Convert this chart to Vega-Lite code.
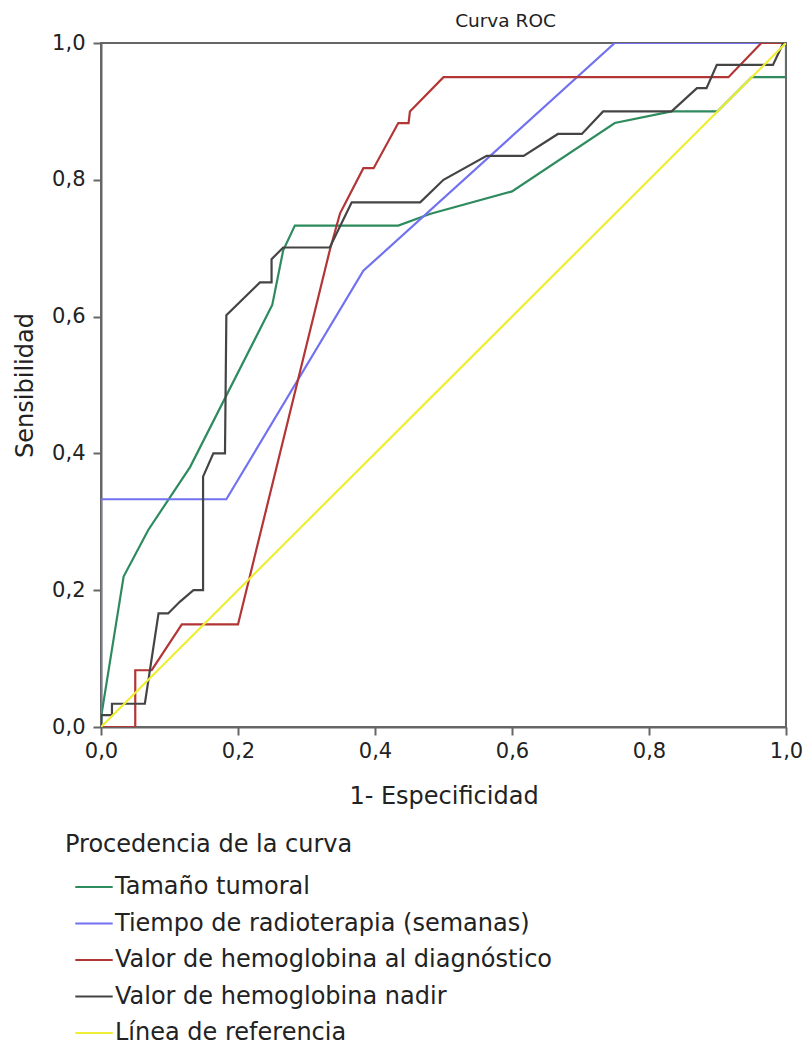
{
  "$schema": "https://vega.github.io/schema/vega-lite/v6.json",
  "autosize": "none",
  "padding": {"left": 101, "top": 43, "right": 26, "bottom": 328},
  "width": 685,
  "height": 684,
  "title": {"text": "Curva ROC", "anchor": "middle", "dx": 62, "offset": 2, "fontSize": 18.5, "fontWeight": "normal", "font": "DejaVu Sans", "color": "#222"},
  "config": {
    "font": "DejaVu Sans",
    "view": {"stroke": "#666", "strokeWidth": 2},
    "axis": {"grid": false, "domainColor": "#666", "domainWidth": 2, "tickColor": "#666", "tickWidth": 2, "tickSize": 8, "labelFontSize": 21, "labelColor": "#222", "titleFontSize": 24, "titleFontWeight": "normal", "titleColor": "#222"},
    "legend": {"labelFontSize": 24, "titleFontSize": 24, "titleFontWeight": "normal", "labelColor": "#222", "titleColor": "#222", "labelLimit": 0, "titleLimit": 0}
  },
  "data": {
    "values": [
      {"s": "Tamaño tumoral", "i": 0, "x": 0, "y": 0},
      {"s": "Tamaño tumoral", "i": 1, "x": 0.001, "y": 0.02},
      {"s": "Tamaño tumoral", "i": 2, "x": 0.033, "y": 0.22},
      {"s": "Tamaño tumoral", "i": 3, "x": 0.069, "y": 0.288},
      {"s": "Tamaño tumoral", "i": 4, "x": 0.13, "y": 0.38},
      {"s": "Tamaño tumoral", "i": 5, "x": 0.25, "y": 0.617},
      {"s": "Tamaño tumoral", "i": 6, "x": 0.266, "y": 0.697},
      {"s": "Tamaño tumoral", "i": 7, "x": 0.283, "y": 0.733},
      {"s": "Tamaño tumoral", "i": 8, "x": 0.434, "y": 0.733},
      {"s": "Tamaño tumoral", "i": 9, "x": 0.48, "y": 0.75},
      {"s": "Tamaño tumoral", "i": 10, "x": 0.6, "y": 0.783},
      {"s": "Tamaño tumoral", "i": 11, "x": 0.75, "y": 0.883},
      {"s": "Tamaño tumoral", "i": 12, "x": 0.833, "y": 0.9},
      {"s": "Tamaño tumoral", "i": 13, "x": 0.9, "y": 0.9},
      {"s": "Tamaño tumoral", "i": 14, "x": 0.95, "y": 0.95},
      {"s": "Tamaño tumoral", "i": 15, "x": 1, "y": 0.95},
      {"s": "Tamaño tumoral", "i": 16, "x": 1, "y": 1},

      {"s": "Tiempo de radioterapia (semanas)", "i": 0, "x": 0, "y": 0},
      {"s": "Tiempo de radioterapia (semanas)", "i": 1, "x": 0, "y": 0.333},
      {"s": "Tiempo de radioterapia (semanas)", "i": 2, "x": 0.183, "y": 0.333},
      {"s": "Tiempo de radioterapia (semanas)", "i": 3, "x": 0.383, "y": 0.667},
      {"s": "Tiempo de radioterapia (semanas)", "i": 4, "x": 0.75, "y": 1},
      {"s": "Tiempo de radioterapia (semanas)", "i": 5, "x": 1, "y": 1},

      {"s": "Valor de hemoglobina al diagnóstico", "i": 0, "x": 0, "y": 0},
      {"s": "Valor de hemoglobina al diagnóstico", "i": 1, "x": 0.05, "y": 0},
      {"s": "Valor de hemoglobina al diagnóstico", "i": 2, "x": 0.05, "y": 0.083},
      {"s": "Valor de hemoglobina al diagnóstico", "i": 3, "x": 0.074, "y": 0.083},
      {"s": "Valor de hemoglobina al diagnóstico", "i": 4, "x": 0.118, "y": 0.15},
      {"s": "Valor de hemoglobina al diagnóstico", "i": 5, "x": 0.2, "y": 0.15},
      {"s": "Valor de hemoglobina al diagnóstico", "i": 6, "x": 0.334, "y": 0.697},
      {"s": "Valor de hemoglobina al diagnóstico", "i": 7, "x": 0.349, "y": 0.751},
      {"s": "Valor de hemoglobina al diagnóstico", "i": 8, "x": 0.383, "y": 0.817},
      {"s": "Valor de hemoglobina al diagnóstico", "i": 9, "x": 0.398, "y": 0.817},
      {"s": "Valor de hemoglobina al diagnóstico", "i": 10, "x": 0.434, "y": 0.883},
      {"s": "Valor de hemoglobina al diagnóstico", "i": 11, "x": 0.449, "y": 0.883},
      {"s": "Valor de hemoglobina al diagnóstico", "i": 12, "x": 0.451, "y": 0.9},
      {"s": "Valor de hemoglobina al diagnóstico", "i": 13, "x": 0.5, "y": 0.95},
      {"s": "Valor de hemoglobina al diagnóstico", "i": 14, "x": 0.916, "y": 0.95},
      {"s": "Valor de hemoglobina al diagnóstico", "i": 15, "x": 0.964, "y": 1},
      {"s": "Valor de hemoglobina al diagnóstico", "i": 16, "x": 1, "y": 1},

      {"s": "Valor de hemoglobina nadir", "i": 0, "x": 0, "y": 0},
      {"s": "Valor de hemoglobina nadir", "i": 1, "x": 0, "y": 0.0175},
      {"s": "Valor de hemoglobina nadir", "i": 2, "x": 0.016, "y": 0.0175},
      {"s": "Valor de hemoglobina nadir", "i": 3, "x": 0.016, "y": 0.034},
      {"s": "Valor de hemoglobina nadir", "i": 4, "x": 0.064, "y": 0.034},
      {"s": "Valor de hemoglobina nadir", "i": 5, "x": 0.084, "y": 0.166},
      {"s": "Valor de hemoglobina nadir", "i": 6, "x": 0.098, "y": 0.166},
      {"s": "Valor de hemoglobina nadir", "i": 7, "x": 0.115, "y": 0.183},
      {"s": "Valor de hemoglobina nadir", "i": 8, "x": 0.135, "y": 0.2},
      {"s": "Valor de hemoglobina nadir", "i": 9, "x": 0.149, "y": 0.2},
      {"s": "Valor de hemoglobina nadir", "i": 10, "x": 0.149, "y": 0.366},
      {"s": "Valor de hemoglobina nadir", "i": 11, "x": 0.164, "y": 0.4},
      {"s": "Valor de hemoglobina nadir", "i": 12, "x": 0.181, "y": 0.4},
      {"s": "Valor de hemoglobina nadir", "i": 13, "x": 0.183, "y": 0.602},
      {"s": "Valor de hemoglobina nadir", "i": 14, "x": 0.232, "y": 0.65},
      {"s": "Valor de hemoglobina nadir", "i": 15, "x": 0.249, "y": 0.65},
      {"s": "Valor de hemoglobina nadir", "i": 16, "x": 0.249, "y": 0.684},
      {"s": "Valor de hemoglobina nadir", "i": 17, "x": 0.266, "y": 0.701},
      {"s": "Valor de hemoglobina nadir", "i": 18, "x": 0.334, "y": 0.701},
      {"s": "Valor de hemoglobina nadir", "i": 19, "x": 0.366, "y": 0.767},
      {"s": "Valor de hemoglobina nadir", "i": 20, "x": 0.466, "y": 0.767},
      {"s": "Valor de hemoglobina nadir", "i": 21, "x": 0.5, "y": 0.8},
      {"s": "Valor de hemoglobina nadir", "i": 22, "x": 0.563, "y": 0.835},
      {"s": "Valor de hemoglobina nadir", "i": 23, "x": 0.617, "y": 0.835},
      {"s": "Valor de hemoglobina nadir", "i": 24, "x": 0.667, "y": 0.867},
      {"s": "Valor de hemoglobina nadir", "i": 25, "x": 0.702, "y": 0.867},
      {"s": "Valor de hemoglobina nadir", "i": 26, "x": 0.733, "y": 0.9},
      {"s": "Valor de hemoglobina nadir", "i": 27, "x": 0.833, "y": 0.9},
      {"s": "Valor de hemoglobina nadir", "i": 28, "x": 0.87, "y": 0.934},
      {"s": "Valor de hemoglobina nadir", "i": 29, "x": 0.884, "y": 0.934},
      {"s": "Valor de hemoglobina nadir", "i": 30, "x": 0.899, "y": 0.968},
      {"s": "Valor de hemoglobina nadir", "i": 31, "x": 0.981, "y": 0.968},
      {"s": "Valor de hemoglobina nadir", "i": 32, "x": 0.996, "y": 1},
      {"s": "Valor de hemoglobina nadir", "i": 33, "x": 1, "y": 1},

      {"s": "Línea de referencia", "i": 0, "x": 0, "y": 0},
      {"s": "Línea de referencia", "i": 1, "x": 1, "y": 1}
    ]
  },
  "mark": {"type": "line", "strokeWidth": 2.2, "clip": true},
  "encoding": {
    "x": {"field": "x", "type": "quantitative", "scale": {"domain": [0, 1], "nice": false, "zero": false},
      "axis": {"values": [0, 0.2, 0.4, 0.6, 0.8, 1], "labelExpr": "replace(format(datum.value, '.1f'), '.', ',')", "title": "1- Especificidad", "labelPadding": 5, "titlePadding": 23, "labelFlush": false}},
    "y": {"field": "y", "type": "quantitative", "scale": {"domain": [0, 1], "nice": false, "zero": false},
      "axis": {"values": [0, 0.2, 0.4, 0.6, 0.8, 1], "labelExpr": "replace(format(datum.value, '.1f'), '.', ',')", "title": "Sensibilidad", "labelPadding": 8, "titlePadding": 14, "labelFlush": false}},
    "color": {"field": "s", "type": "nominal",
      "scale": {"domain": ["Tamaño tumoral", "Tiempo de radioterapia (semanas)", "Valor de hemoglobina al diagnóstico", "Valor de hemoglobina nadir", "Línea de referencia"],
        "range": ["#2e8b5e", "#7272f0", "#b33636", "#444444", "#eeee33"]},
      "legend": {"title": "Procedencia de la curva", "orient": "none", "legendX": -36, "legendY": 790, "symbolType": "stroke", "symbolSize": 1400, "symbolStrokeWidth": 2.2, "labelOffset": 1, "rowPadding": 4.5, "titlePadding": 10, "padding": 0,
        "encode": {"title": {"update": {"dx": {"value": -9}}}}}},
    "order": {"field": "i", "type": "quantitative"}
  }
}
